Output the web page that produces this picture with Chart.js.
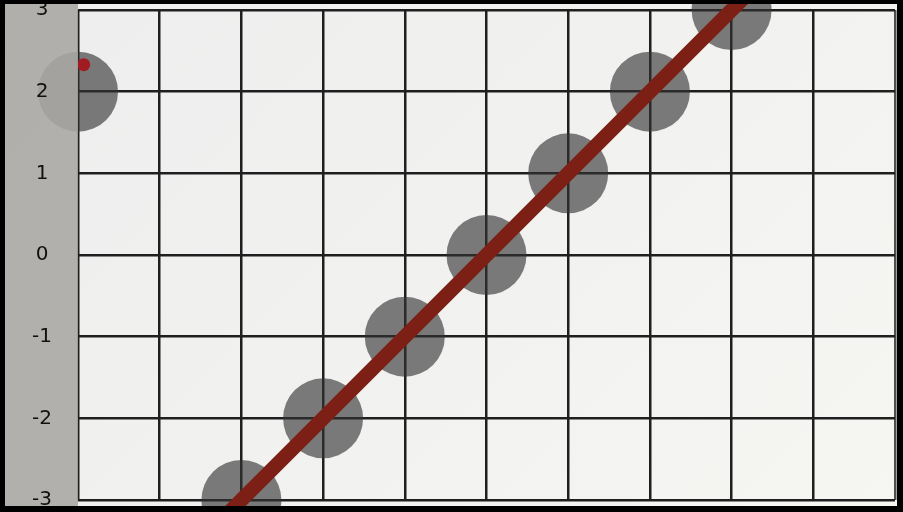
<!DOCTYPE html>
<html>
<head>
<meta charset="utf-8">
<script src="https://cdn.jsdelivr.net/npm/chart.js@4"></script>
<style>
  html, body { margin: 0; padding: 0; background: #000; width: 903px; height: 512px; overflow: hidden; }
  #wrap { position: absolute; left: 5px; top: 4px; width: 892px; height: 502px;
          background: linear-gradient(135deg, #eeeeee 0%, #f1f1f0 50%, #f6f6f3 100%); }
</style>
</head>
<body>
<div id="wrap"><canvas id="c"></canvas></div>
<script>
// ---- data ----
const pointX = [-5, -3, -2, -1, 0, 1, 2, 3];
const pointY = [2, -3, -2, -1, 0, 1, 2, 3];
const lineX = [-4, 4];
const lineY = [-4, 4];
const dotX = [-4.93];
const dotY = [2.33];
const xMin = -5, xMax = 5;
const yMin = -3, yMax = 3;

const zip = (xs, ys) => xs.map((x, i) => ({ x: x, y: ys[i] }));

const stripPlugin = {
  id: 'strip',
  afterDatasetsDraw(chart) {
    const ctx = chart.ctx;
    ctx.save();
    ctx.fillStyle = 'rgba(168,167,164,0.89)';
    ctx.fillRect(0, 0, chart.chartArea.left, chart.height);
    ctx.restore();
  }
};

new Chart(document.getElementById('c'), {
  type: 'scatter',
  data: {
    datasets: [
      {
        type: 'line',
        data: zip(lineX, lineY),
        borderColor: '#7c1f15',
        borderWidth: 14.5,
        pointRadius: 0,
        fill: false,
        clip: false,
        order: 0
      },
      {
        data: zip(dotX, dotY),
        backgroundColor: '#a11b22',
        borderWidth: 0,
        pointRadius: 6.5,
        clip: false,
        order: 1
      },
      {
        data: zip(pointX, pointY),
        backgroundColor: 'rgba(50,51,52,0.63)',
        borderWidth: 0,
        pointRadius: 40,
        pointHoverRadius: 40,
        clip: false,
        order: 2
      }
    ]
  },
  options: {
    responsive: true,
    maintainAspectRatio: false,
    animation: false,
    events: [],
    layout: { autoPadding: false, padding: { top: 6, bottom: 6, left: 0, right: 2 } },
    plugins: { legend: { display: false }, tooltip: { enabled: false } },
    scales: {
      x: {
        type: 'linear',
        min: xMin, max: xMax,
        ticks: { display: false, stepSize: 1 },
        grid: {
          drawTicks: false,
          lineWidth: 2.5,
          color: (c) => (c.tick && c.tick.value === xMax) ? '#4f4f4c' : '#1f1f1f'
        },
        border: { display: false }
      },
      y: {
        type: 'linear',
        min: yMin, max: yMax,
        afterFit(scale) { scale.width = 73; scale.paddingTop = 0; scale.paddingBottom = 0; },
        ticks: {
          stepSize: 1,
          z: 1,
          crossAlign: 'center',
          padding: 26,
          color: '#111',
          font: { family: "'DejaVu Sans', sans-serif", size: 20 }
        },
        grid: { drawTicks: false, lineWidth: 2.5, color: '#1f1f1f' },
        border: { display: false }
      }
    }
  },
  plugins: [stripPlugin]
});
</script>
</body>
</html>
